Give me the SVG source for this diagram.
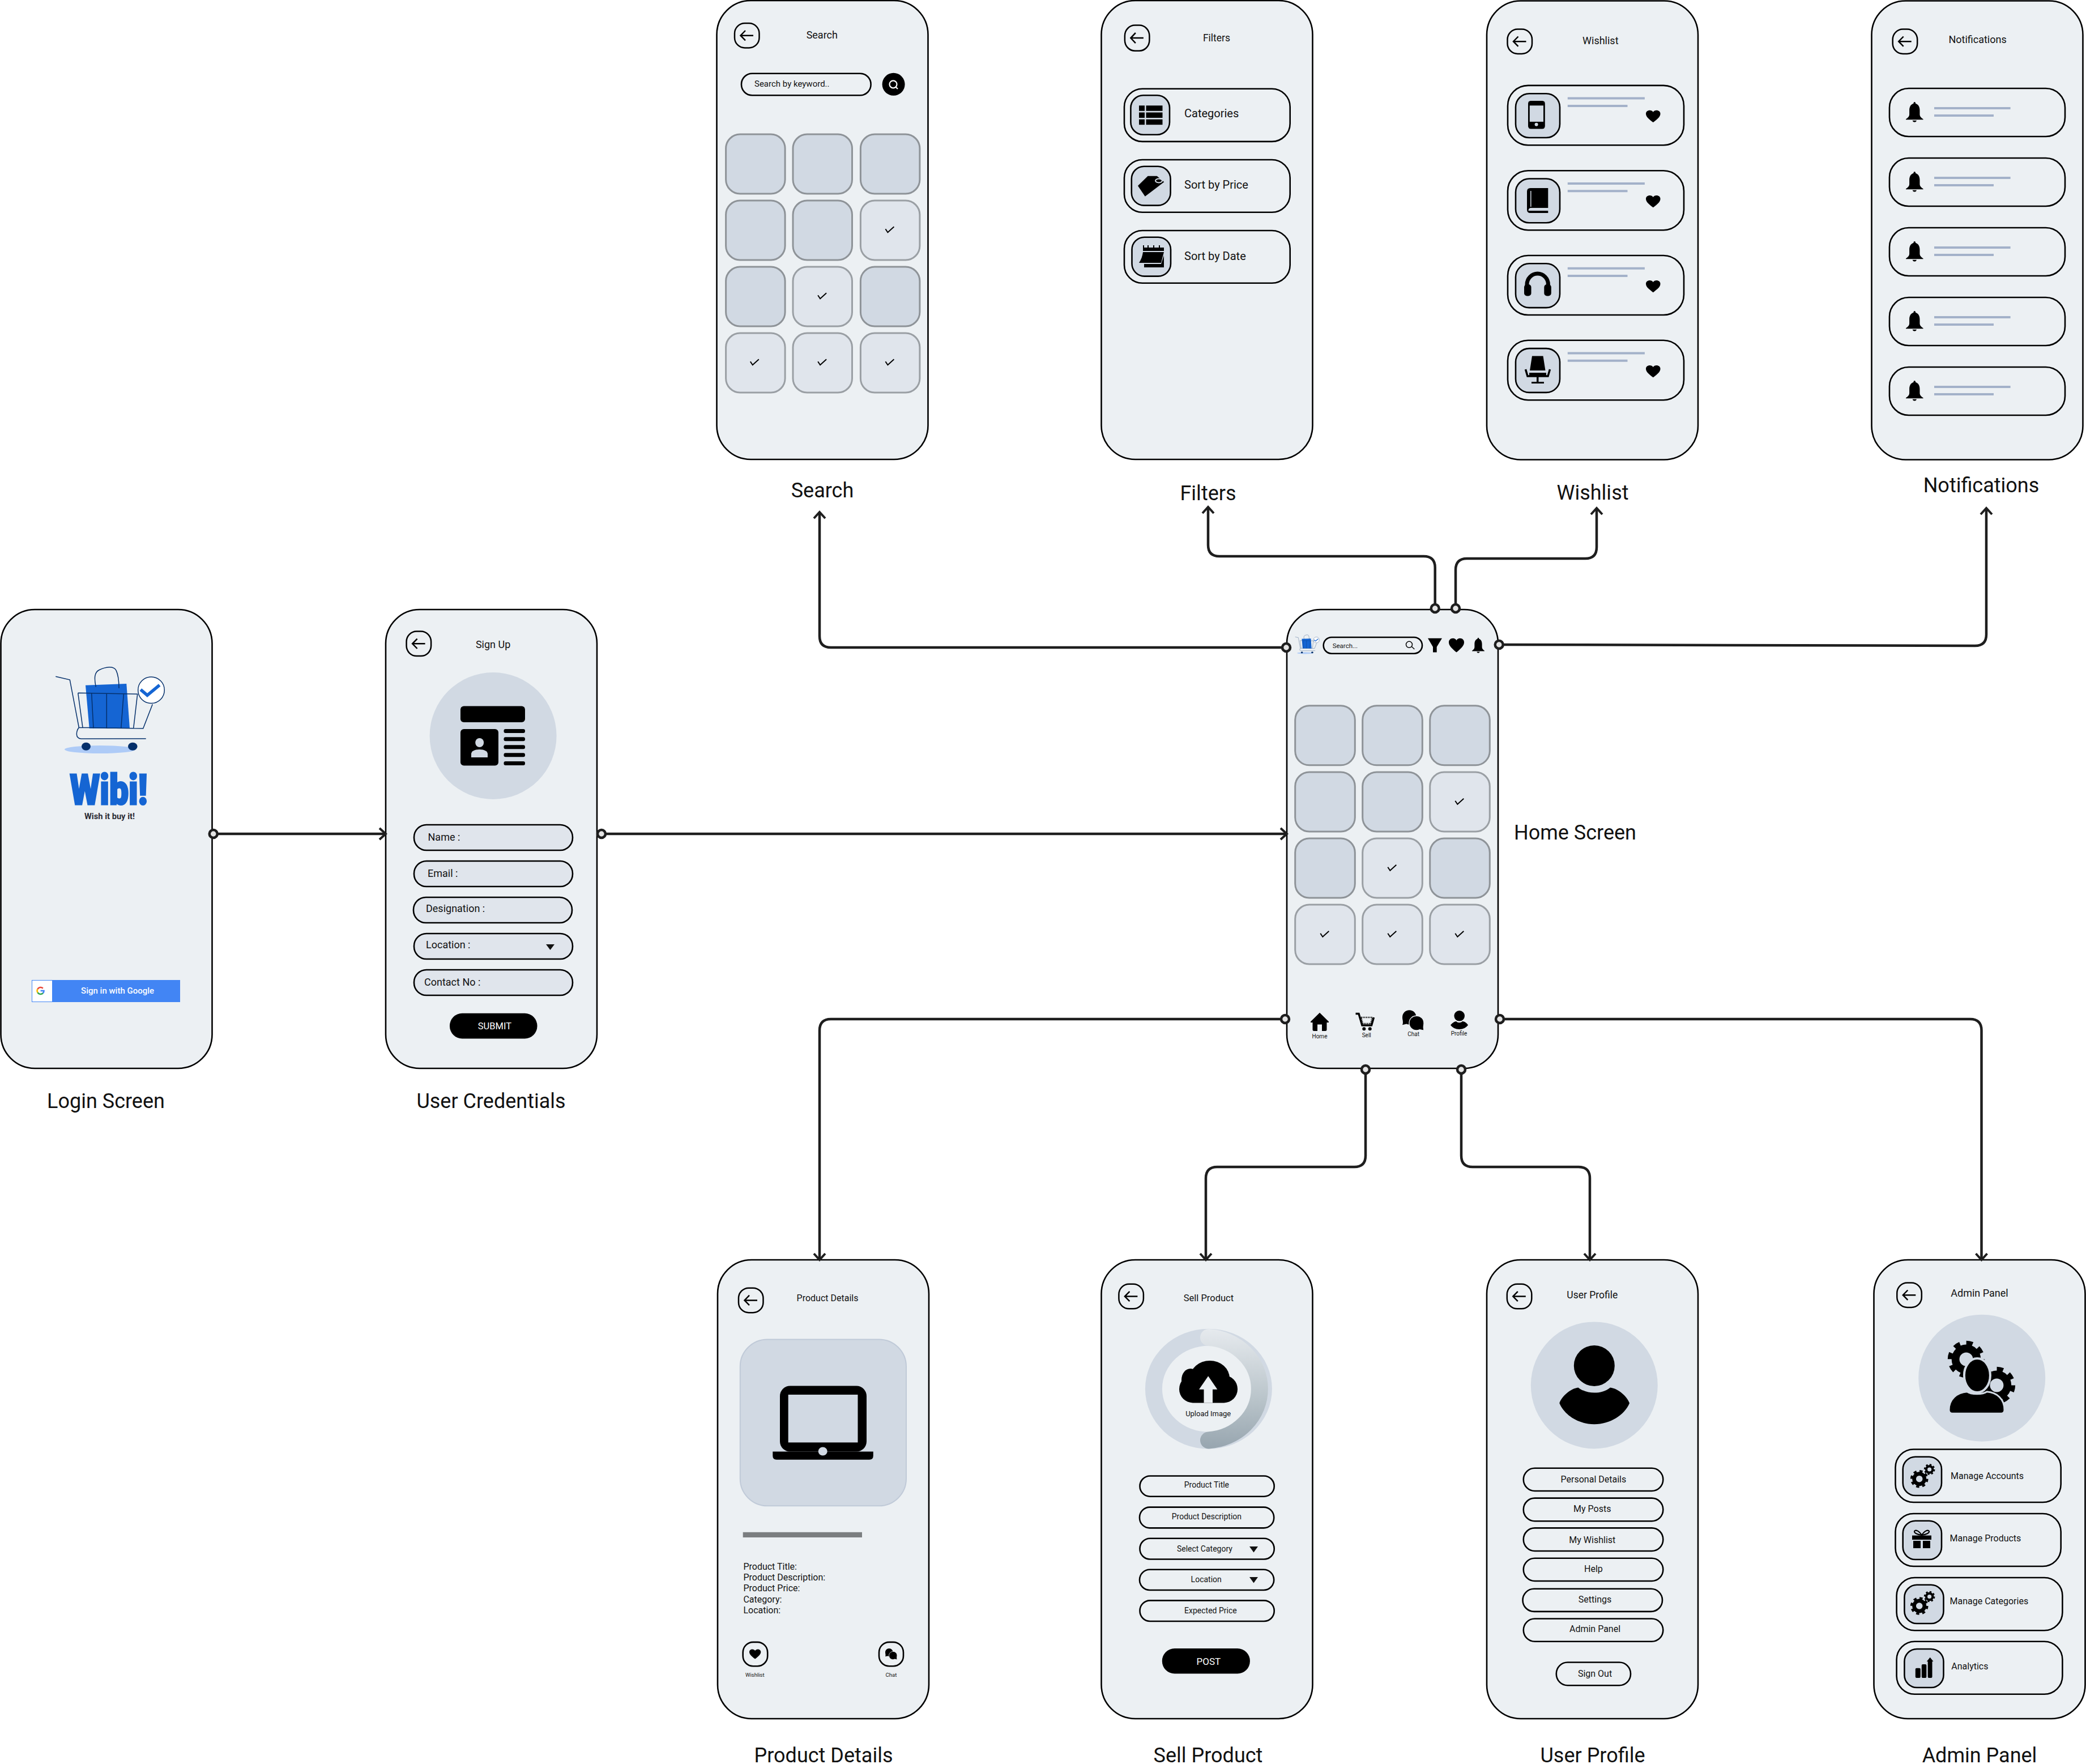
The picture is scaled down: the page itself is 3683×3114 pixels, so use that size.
<svg xmlns="http://www.w3.org/2000/svg" width="3683" height="3114" viewBox="0 0 3683 3114">
<style>
text{font-family:Roboto,"Liberation Sans",sans-serif;fill:#111}
.phone{fill:#ecf0f3;stroke:#000;stroke-width:2.6}
.lbl{font-size:36px;text-anchor:middle}
.c{text-anchor:middle}
.ttl{font-size:18px;text-anchor:middle}
.cd{fill:#d1d9e3;stroke:#8e9398;stroke-width:3}
.cl{fill:#e0e5ec;stroke:#9a9fa4;stroke-width:3}
.fld{fill:#e0e5ec;stroke:#000;stroke-width:2.6}
.out{fill:none;stroke:#000;stroke-width:2.6}
.box{fill:#d1d9e3;stroke:#000;stroke-width:2.6}
.ln{stroke:#a3b1c9;stroke-width:4;fill:none}
.cn{fill:none;stroke:#1e1e1e;stroke-width:4.5;marker-end:url(#ah)}
.dot{fill:#e4e4e4;stroke:#1e1e1e;stroke-width:4.5}
.blk{fill:#000}
.bg{fill:#d1d9e3}
.tri{fill:#111}
.cartline{fill:none;stroke:#05306b;stroke-width:1.5}
</style>
<defs>
<marker id="ah" markerUnits="userSpaceOnUse" markerWidth="18" markerHeight="26" viewBox="0 0 18 26" refX="15" refY="13" orient="auto"><path d="M4,3 L15,13 L4,23" fill="none" stroke="#1e1e1e" stroke-width="4"/></marker>
<linearGradient id="arc" gradientUnits="userSpaceOnUse" x1="2134" y1="2346" x2="2134" y2="2558"><stop offset="0" stop-color="#e6eaee"/><stop offset=".6" stop-color="#b8c3c9"/><stop offset="1" stop-color="#97a5af"/></linearGradient>
<g id="back"><rect x="0" y="0" width="43.500" height="43.500" rx="18" fill="none" stroke="#000" stroke-width="2.500"/><path d="M33,21.700 H11 M19,13 L10.500,21.700 L19,30.400" fill="none" stroke="#000" stroke-width="2.500"/></g>
<path id="heart" d="M50 90 C20 65 0 48 0 25 C0 10 12 0 27 0 C37 0 45 5 50 13 C55 5 63 0 73 0 C88 0 100 10 100 25 C100 48 80 65 50 90Z"/>
<path id="bell" d="M50 0 C54 0 56 3 56 8 C72 12 80 25 80 42 L80 62 C80 72 90 80 100 85 L100 88 L0 88 L0 85 C10 80 20 72 20 62 L20 42 C20 25 28 12 44 8 C44 3 46 0 50 0Z M38 92 H62 C60 98 55 100 50 100 C45 100 40 98 38 92Z"/>
<polyline id="chk" points="-8.200,-1.800 -4.200,4.200 6.800,-5.700" fill="none" stroke="#000" stroke-width="2"/>
<g id="chat"><path d="M37 0 C58 0 74 16 74 38 C74 60 58 76 37 76 C30 76 26 75 22 73 L0 78 C4 70 3 64 2 54 C1 48 0 44 0 38 C0 16 16 0 37 0Z" fill="#000"/><path d="M75 30 C97 30 114 46 114 68 C114 76 112 84 112 92 L114 108 L92 103 C86 106 81 107 75 107 C53 107 36 90 36 68 C36 46 53 30 75 30Z" fill="#000" stroke="#ecf0f3" stroke-width="4"/></g>
<g id="gear"><circle r="9.400" fill="none" stroke="#000" stroke-width="3" stroke-dasharray="3.690 3.690"/><circle r="6.300" fill="none" stroke="#000" stroke-width="4.600"/></g>
<g id="cart">
<ellipse cx="176.700" cy="1323" rx="62.700" ry="7" fill="#aecbf7"/>
<polygon points="151,1209.700 223.300,1207 229,1285.700 157.700,1285.700" fill="#1565d3"/>
<path class="cartline" d="M98.300,1194.300 L123.300,1200 L139.300,1284 M169.300,1212.700 C166,1196.700 166.700,1186.700 175,1182.700 C186.700,1177.300 200,1175 205,1183.300 C208.300,1190 210,1203.300 210,1215 M137.700,1223.300 L243.300,1225.300 M137.700,1223.300 L146,1284.300 M161.700,1224 L165,1285.700 M188.300,1224.300 V1286 M218.300,1225 L213.700,1286 M242.700,1225.300 L235.700,1285.700 M139.300,1284.300 L252.700,1286 L269.300,1243.300 M139.300,1284.300 C135,1290 131.700,1303.300 143.300,1304.300 L257.700,1304"/>
<ellipse cx="152" cy="1317.700" rx="8" ry="7" fill="#05306b"/>
<ellipse cx="234.300" cy="1317.700" rx="8.300" ry="7" fill="#05306b"/>
<circle cx="267" cy="1218.300" r="23.300" fill="#fff" stroke="#05306b" stroke-width="1.500"/>
<polyline points="248.300,1217.300 260,1227.300 281.700,1209.300" fill="none" stroke="#1565d3" stroke-width="5.500"/>
</g>
</defs>
<rect width="3683" height="3114" fill="#fff"/>

<g id="node-login">
<rect class="phone" x="1.500" y="1076" width="373" height="810" rx="60"/>
<use href="#cart"/>
<text x="192" y="1420" font-size="74" font-weight="900" textLength="137" lengthAdjust="spacingAndGlyphs" class="c" style="fill:#1565d3;stroke:#1565d3;stroke-width:3">Wibi!</text>
<text x="193.500" y="1446" font-size="15" font-weight="700" textLength="89" lengthAdjust="spacingAndGlyphs" class="c" style="fill:#2b2b33">Wish it buy it!</text>
<rect x="56" y="1730" width="262" height="39" fill="#4285f4"/>
<rect x="56.500" y="1730.500" width="36" height="38" fill="#fff" stroke="#4285f4"/>
<g fill="none" stroke-width="2.600"><path d="M71.600,1749 H77.500 A6,6 0 0 1 75.800,1753.300" stroke="#4285f4"/><path d="M75.800,1753.300 A6,6 0 0 1 66.400,1752" stroke="#34a853"/><path d="M66.400,1752 A6,6 0 0 1 66.400,1746" stroke="#fbbc05"/><path d="M66.400,1746 A6,6 0 0 1 75.800,1744.700" stroke="#ea4335"/></g>
<text x="207.600" y="1754" font-size="15" font-weight="500" class="c" style="fill:#fff">Sign in with Google</text>
<text x="187" y="1956" class="lbl">Login Screen</text>
</g>

<g id="node-signup">
<rect class="phone" x="681" y="1076" width="373" height="810" rx="60"/>
<use href="#back" x="717.600" y="1114.600"/>
<text x="870.600" y="1144" class="ttl">Sign Up</text>
<circle cx="870.600" cy="1299" r="112" class="bg"/>
<rect x="813" y="1246.600" width="114" height="28.400" rx="6" class="blk"/>
<rect x="813" y="1287" width="67" height="64.600" rx="6" class="blk"/>
<g class="blk"><rect x="889.500" y="1287" width="37.500" height="7" rx="3"/><rect x="889.500" y="1301.200" width="37.500" height="7" rx="3"/><rect x="889.500" y="1315.300" width="37.500" height="7" rx="3"/><rect x="889.500" y="1329.300" width="37.500" height="7" rx="3"/><rect x="889.500" y="1344" width="37.500" height="7" rx="3"/></g>
<ellipse cx="846.700" cy="1311" rx="7.500" ry="8" class="bg"/>
<path d="M832,1337 V1331 C832,1326 838,1323 846.500,1323 C855,1323 861,1326 861,1331 V1337Z" class="bg"/>
<rect class="fld" x="731" y="1456" width="280" height="45" rx="22"/>
<rect class="fld" x="731" y="1520" width="280" height="45" rx="22"/>
<rect class="fld" x="730" y="1584" width="280" height="45" rx="22"/>
<rect class="fld" x="731" y="1648" width="280" height="45" rx="22"/>
<rect class="fld" x="731" y="1712" width="280" height="45" rx="22"/>
<g font-size="18"><text x="755.500" y="1484">Name :</text><text x="755" y="1548">Email :</text><text x="752" y="1610">Designation :</text><text x="752" y="1674">Location :</text><text x="749" y="1740">Contact No :</text></g>
<polygon class="tri" points="964,1667 979,1667 971.500,1677"/>
<rect x="794" y="1788.800" width="154.500" height="44.600" rx="22" class="blk"/>
<text x="873.400" y="1817" font-size="16.500" class="c" style="fill:#fff">SUBMIT</text>
<text x="867" y="1956" class="lbl">User Credentials</text>
</g>

<g id="node-home">
<rect class="phone" x="2272" y="1076" width="373" height="810" rx="60"/>
<use href="#cart" transform="translate(2264.900,859.200) scale(.222)"/>
<rect x="2336.700" y="1125" width="174.300" height="28.700" rx="14.300" class="out"/>
<text x="2352.700" y="1143.800" font-size="11.500">Search...</text>
<circle cx="2488" cy="1137.800" r="5.500" fill="none" stroke="#000" stroke-width="1.500"/><path d="M2492.500,1141.500 L2497.300,1146" stroke="#000" stroke-width="1.500"/>
<polygon class="blk" points="2521,1126.800 2546,1126.800 2536.700,1142 2536.700,1151.500 2530,1151.500 2530,1142"/>
<use href="#heart" transform="translate(2558,1126.800) scale(.27,.275)"/>
<use href="#bell" transform="translate(2599,1125.700) scale(.22,.27)"/>
<rect class="cd" x="2286.700" y="1245.800" width="105.600" height="105" rx="25"/><rect class="cd" x="2405.700" y="1245.800" width="105.600" height="105" rx="25"/><rect class="cd" x="2524.700" y="1245.800" width="105.600" height="105" rx="25"/>
<rect class="cd" x="2286.700" y="1363" width="105.600" height="105" rx="25"/><rect class="cd" x="2405.700" y="1363" width="105.600" height="105" rx="25"/><rect class="cl" x="2524.700" y="1363" width="105.600" height="105" rx="25"/>
<rect class="cd" x="2286.700" y="1480" width="105.600" height="105" rx="25"/><rect class="cl" x="2405.700" y="1480" width="105.600" height="105" rx="25"/><rect class="cd" x="2524.700" y="1480" width="105.600" height="105" rx="25"/>
<rect class="cl" x="2286.700" y="1597" width="105.600" height="105" rx="25"/><rect class="cl" x="2405.700" y="1597" width="105.600" height="105" rx="25"/><rect class="cl" x="2524.700" y="1597" width="105.600" height="105" rx="25"/>
<use href="#chk" x="2577.500" y="1415.500"/><use href="#chk" x="2458.500" y="1532.500"/><use href="#chk" x="2339.500" y="1649.500"/><use href="#chk" x="2458.500" y="1649.500"/><use href="#chk" x="2577.500" y="1649.500"/>
<path class="blk" d="M2314,1803.500 L2330,1787.700 L2346,1803.500 V1805 H2342.500 V1818 Q2342.500,1820 2340,1820 H2334 V1808.500 H2326 V1820 H2320 Q2317.500,1820 2317.500,1818 V1805 H2314Z"/>
<text x="2330" y="1832.700" font-size="10" class="c">Home</text>
<path d="M2393.500,1789.500 H2399 L2405,1810 H2421.500 L2425.500,1796" fill="none" stroke="#000" stroke-width="3.500"/>
<path d="M2403,1796 H2423 L2420,1807 H2406Z" fill="none" stroke="#000" stroke-width="2.500" stroke-dasharray="1.500 1.500"/>
<circle cx="2408.300" cy="1816.300" r="3" class="blk"/><circle cx="2418.700" cy="1816.300" r="3" class="blk"/>
<text x="2412.700" y="1831" font-size="10" class="c">Sell</text>
<use href="#chat" transform="translate(2476,1783.300) scale(.333)"/>
<text x="2495.700" y="1829" font-size="10" class="c">Chat</text>
<circle cx="2576.700" cy="1793.300" r="9.300" class="blk"/>
<path class="blk" d="M2561,1809.500 C2565,1805 2569,1803 2571,1803 C2574,1806 2579,1806 2582,1803 C2585,1803 2589,1805 2592,1809.500 C2589,1814 2583,1817 2576.500,1817 C2570,1817 2564,1814 2561,1809.500Z"/>
<text x="2576" y="1828" font-size="10" class="c">Profile</text>
<text x="2781" y="1482" class="lbl">Home Screen</text>
</g>

<g id="node-search">
<rect class="phone" x="1265.500" y="1" width="373" height="810" rx="60"/>
<use href="#back" x="1297" y="41"/>
<text x="1451.300" y="67.800" class="ttl">Search</text>
<rect x="1309" y="129.700" width="228.600" height="38.600" rx="19" class="out"/>
<text x="1332" y="152.500" font-size="15">Search by keyword..</text>
<circle cx="1577.600" cy="148.800" r="20" class="blk"/>
<circle cx="1577" cy="148.800" r="6.500" fill="none" stroke="#fff" stroke-width="2.200"/><path d="M1581.500,153.500 L1585,157" stroke="#fff" stroke-width="2.200"/>
<rect class="cd" x="1281.600" y="237" width="104.500" height="105" rx="25"/><rect class="cd" x="1400" y="237" width="104.500" height="105" rx="25"/><rect class="cd" x="1519.400" y="237" width="104.500" height="105" rx="25"/>
<rect class="cd" x="1281.600" y="354" width="104.500" height="105" rx="25"/><rect class="cd" x="1400" y="354" width="104.500" height="105" rx="25"/><rect class="cl" x="1519.400" y="354" width="104.500" height="105" rx="25"/>
<rect class="cd" x="1281.600" y="471" width="104.500" height="105" rx="25"/><rect class="cl" x="1400" y="471" width="104.500" height="105" rx="25"/><rect class="cd" x="1519.400" y="471" width="104.500" height="105" rx="25"/>
<rect class="cl" x="1281.600" y="588" width="104.500" height="105" rx="25"/><rect class="cl" x="1400" y="588" width="104.500" height="105" rx="25"/><rect class="cl" x="1519.400" y="588" width="104.500" height="105" rx="25"/>
<use href="#chk" x="1571.600" y="406"/><use href="#chk" x="1452.300" y="523"/><use href="#chk" x="1333" y="640"/><use href="#chk" x="1452.300" y="640"/><use href="#chk" x="1571.600" y="640"/>
<text x="1452" y="878" class="lbl">Search</text>
</g>

<g id="node-filters">
<rect class="phone" x="1944.500" y="1" width="373" height="810" rx="60"/>
<use href="#back" transform="translate(1985.900,44.500) scale(1,1.040)"/>
<text x="2148" y="73" font-size="17.500" class="c">Filters</text>
<rect class="out" x="1985" y="156.700" width="292.700" height="93.200" rx="32"/>
<rect class="out" x="1985" y="282" width="292.700" height="92.800" rx="32"/>
<rect class="out" x="1985" y="407" width="292.700" height="92.700" rx="32"/>
<rect class="box" x="1996.400" y="168.300" width="68.600" height="69.400" rx="22"/>
<rect class="box" x="1997.800" y="293.800" width="68.800" height="68.800" rx="22"/>
<rect class="box" x="1998.500" y="418.700" width="68.500" height="68.900" rx="22"/>
<g class="blk"><rect x="2011" y="186.300" width="10" height="9.500"/><rect x="2023.500" y="186.300" width="29" height="9.500"/><rect x="2011" y="198.500" width="10" height="9.500"/><rect x="2023.500" y="198.500" width="29" height="9.500"/><rect x="2011" y="210.700" width="10" height="9.500"/><rect x="2023.500" y="210.700" width="29" height="9.500"/></g>
<path class="blk" d="M2009,328 L2026.600,310.700 H2042.700 L2055.300,321.300 L2021.700,346.700Z"/>
<ellipse cx="2046" cy="319" rx="6" ry="3.500" fill="none" stroke="#d1d9e3" stroke-width="2"/>
<path class="blk" d="M2018,437 V433 H2020 V437 H2026 V433 H2028 V437 H2036 V433 H2038 V437 H2046 V433 H2048 V437 H2055 V443 H2018Z M2018,445 H2055 L2050,464 H2011 C2015,458 2017,452 2018,445Z M2020,466 H2050 L2055,451 V472 H2020Z"/>
<g font-size="20"><text x="2091" y="207">Categories</text><text x="2091" y="332.500">Sort by Price</text><text x="2091" y="458.500">Sort by Date</text></g>
<text x="2133" y="883" class="lbl">Filters</text>
</g>

<g id="node-wishlist">
<rect class="phone" x="2625" y="1.500" width="373" height="810" rx="60"/>
<use href="#back" x="2661.500" y="51.500"/>
<text x="2825.800" y="77.800" class="ttl">Wishlist</text>
<rect class="out" x="2662" y="150.900" width="311" height="105.300" rx="36"/>
<rect class="out" x="2662" y="301.200" width="311" height="105" rx="36"/>
<rect class="out" x="2662" y="451" width="311" height="105" rx="36"/>
<rect class="out" x="2662" y="600.800" width="311" height="105.400" rx="36"/>
<rect class="box" x="2676" y="165.200" width="78" height="77.800" rx="24"/>
<rect class="box" x="2676" y="315.500" width="78" height="77.800" rx="24"/>
<rect class="box" x="2676" y="465.300" width="78" height="77.800" rx="24"/>
<rect class="box" x="2676" y="615.100" width="78" height="77.800" rx="24"/>
<path class="ln" d="M2767.800,173.600 H2903.900 M2767.800,186.900 H2873.500 M2767.800,323.900 H2903.900 M2767.800,337.200 H2873.500 M2767.800,473.700 H2903.900 M2767.800,487 H2873.500 M2767.800,623.500 H2903.900 M2767.800,636.800 H2873.500"/>
<use href="#heart" transform="translate(2906,194.800) scale(.255,.235)"/>
<use href="#heart" transform="translate(2906,345) scale(.255,.235)"/>
<use href="#heart" transform="translate(2906,495) scale(.255,.235)"/>
<use href="#heart" transform="translate(2906,645) scale(.255,.235)"/>
<rect x="2698" y="177.900" width="29.800" height="49.700" rx="5" class="blk"/><rect x="2700.800" y="186.300" width="24.200" height="28.600" class="bg"/><circle cx="2712.600" cy="219.700" r="3" class="bg"/>
<path class="blk" d="M2696,338 Q2696,332 2702,332 H2733.300 V367 H2702 Q2698.500,368 2698.500,372 H2733.300 V376 H2702 Q2696,376 2696,370Z"/><path d="M2702.800,337 V365" stroke="#d1d9e3" stroke-width="1.500"/>
<path d="M2696,508 V502 A18.700,19 0 0 1 2733.400,502 V508" fill="none" stroke="#000" stroke-width="7"/><rect x="2691" y="502" width="12.500" height="20.500" rx="5" class="blk"/><rect x="2726.300" y="502" width="12.500" height="20.500" rx="5" class="blk"/>
<path class="blk" d="M2705,628.400 H2724.500 L2728.500,654 H2701Z"/><path d="M2693.500,652 L2697,664 H2733 L2736.500,652" fill="none" stroke="#000" stroke-width="3.500"/><rect x="2700" y="658" width="30" height="6" class="blk"/><rect x="2713" y="664" width="3.500" height="11" class="blk"/><rect x="2704" y="674" width="22" height="3" class="blk"/>
<text x="2812" y="882" class="lbl">Wishlist</text>
</g>

<g id="node-notifications">
<rect class="phone" x="3304.500" y="1.500" width="373" height="810" rx="60"/>
<use href="#back" x="3341.700" y="51.500"/>
<text x="3491.600" y="76.200" class="ttl">Notifications</text>
<rect class="out" x="3336" y="156" width="310" height="85" rx="34"/>
<rect class="out" x="3336" y="279" width="310" height="85" rx="34"/>
<rect class="out" x="3336" y="402" width="310" height="85" rx="34"/>
<rect class="out" x="3336" y="525" width="310" height="85" rx="34"/>
<rect class="out" x="3336" y="648" width="310" height="85" rx="34"/>
<use href="#bell" transform="translate(3365,180) scale(.306,.355)"/>
<use href="#bell" transform="translate(3365,303) scale(.306,.355)"/>
<use href="#bell" transform="translate(3365,426) scale(.306,.355)"/>
<use href="#bell" transform="translate(3365,549) scale(.306,.355)"/>
<use href="#bell" transform="translate(3365,672) scale(.306,.355)"/>
<path class="ln" d="M3415,191 H3549.600 M3415,204 H3520 M3415,314 H3549.600 M3415,327 H3520 M3415,437 H3549.600 M3415,450 H3520 M3415,560 H3549.600 M3415,573 H3520 M3415,683 H3549.600 M3415,696 H3520"/>
<text x="3498" y="869" class="lbl">Notifications</text>
</g>

<g id="node-product">
<rect class="phone" x="1267" y="2224" width="373" height="810" rx="60"/>
<use href="#back" x="1304" y="2273.700"/>
<text x="1461" y="2296.700" font-size="16" class="c">Product Details</text>
<rect x="1306.800" y="2364.400" width="293.200" height="293.900" rx="48" fill="#d1d9e3" stroke="#c0cad8" stroke-width="2"/>
<rect x="1377" y="2446.500" width="153" height="116" rx="18" class="blk"/>
<rect x="1391.700" y="2462" width="122.800" height="84.400" class="bg"/>
<path class="blk" d="M1364.300,2562.500 H1541.800 V2570 Q1541.800,2576.800 1535,2576.800 H1371 Q1364.300,2576.800 1364.300,2570Z"/>
<ellipse cx="1452.700" cy="2562" rx="8" ry="7.500" class="bg"/>
<rect x="1311.700" y="2704.800" width="210.300" height="9.200" fill="#7b7e80"/>
<g font-size="16"><text x="1312.400" y="2771.400">Product Title:</text><text x="1312.400" y="2790.400">Product Description:</text><text x="1312.400" y="2809.300">Product Price:</text><text x="1312.400" y="2828.800">Category:</text><text x="1312.400" y="2847.800">Location:</text></g>
<rect class="out" x="1311.700" y="2898.900" width="43.500" height="42.400" rx="18"/>
<use href="#heart" transform="translate(1323,2911.500) scale(.203,.19)"/>
<rect class="out" x="1552" y="2898.900" width="43" height="42.400" rx="18"/>
<use href="#chat" transform="translate(1563,2910) scale(.183)"/>
<text x="1332.800" y="2959.700" font-size="9.500" class="c">Wishlist</text>
<text x="1573.400" y="2959.700" font-size="9.500" class="c">Chat</text>
<text x="1454" y="3111" class="lbl">Product Details</text>
</g>

<g id="node-sell">
<rect class="phone" x="1944.500" y="2224" width="373" height="810" rx="60"/>
<use href="#back" x="1975.400" y="2266.800"/>
<text x="2133.900" y="2296.700" font-size="16.500" class="c">Sell Product</text>
<ellipse cx="2133.900" cy="2451.700" rx="112" ry="106" class="bg"/>
<ellipse cx="2133.900" cy="2451.700" rx="82" ry="76" fill="#ecf0f3"/>
<path d="M2134,2361 A97,91 0 0 1 2134,2542.500" fill="none" stroke="url(#arc)" stroke-width="30" stroke-linecap="round"/>
<g class="blk"><ellipse cx="2136" cy="2433" rx="35" ry="31"/><ellipse cx="2102" cy="2436" rx="16" ry="20"/><rect x="2082" y="2428" width="103" height="48.400" rx="24"/></g>
<polygon points="2133.200,2429.300 2149.300,2452.800 2141,2452.800 2141,2476.400 2125.500,2476.400 2125.500,2452.800 2117,2452.800" fill="#ecf0f3"/>
<text x="2133.200" y="2499.900" font-size="13" class="c">Upload Image</text>
<rect class="out" x="2012.500" y="2605.500" width="237.200" height="36.200" rx="18"/>
<rect class="out" x="2012" y="2660.600" width="237.200" height="36.800" rx="18"/>
<rect class="out" x="2012.500" y="2715.700" width="237.200" height="36.800" rx="18"/>
<rect class="out" x="2012" y="2770.800" width="237.200" height="36.200" rx="18"/>
<rect class="out" x="2012.500" y="2825.400" width="237.200" height="36.600" rx="18"/>
<g font-size="14" class="c"><text x="2130.400" y="2626">Product Title</text><text x="2130.400" y="2681.900">Product Description</text><text x="2126.900" y="2738.700">Select Category</text><text x="2129.700" y="2792.700">Location</text><text x="2137.400" y="2847.800">Expected Price</text></g>
<polygon class="tri" points="2206,2730 2221,2730 2213.500,2740.400"/>
<polygon class="tri" points="2206,2784 2221,2784 2213.500,2794.400"/>
<rect x="2051.800" y="2910" width="155.100" height="44.500" rx="22" class="blk"/>
<text x="2133.900" y="2938.500" font-size="17" class="c" style="fill:#fff">POST</text>
<text x="2133" y="3111" class="lbl">Sell Product</text>
</g>

<g id="node-profile">
<rect class="phone" x="2625" y="2224" width="373" height="810" rx="60"/>
<use href="#back" x="2660.800" y="2266.800"/>
<text x="2811.300" y="2292" font-size="17.500" class="c">User Profile</text>
<circle cx="2814.800" cy="2445.400" r="112" class="bg"/>
<circle cx="2814.800" cy="2410.900" r="36" class="blk"/>
<path class="blk" d="M2753.300,2477 C2757,2465 2773,2451 2786.500,2449.400 C2795,2456 2805,2458.600 2814.800,2458.600 C2825,2458.600 2835,2456 2843,2449.400 C2857,2451 2873,2465 2877,2477 C2868,2498 2843,2514.200 2814.800,2514.200 C2787,2514.200 2762,2498 2753.300,2477Z"/>
<rect class="out" x="2689.800" y="2591.800" width="246.500" height="40.200" rx="20"/>
<rect class="out" x="2689.800" y="2644.600" width="246.500" height="40.700" rx="20"/>
<rect class="out" x="2689.800" y="2697.400" width="246.500" height="40.600" rx="20"/>
<rect class="out" x="2689.800" y="2750.800" width="246.500" height="40.200" rx="20"/>
<rect class="out" x="2688.500" y="2804.700" width="246.500" height="40.200" rx="20"/>
<rect class="out" x="2689.800" y="2857.500" width="246.500" height="40.200" rx="20"/>
<g font-size="16" class="c"><text x="2813.400" y="2617">Personal Details</text><text x="2811.300" y="2669.200">My Posts</text><text x="2811.300" y="2723.800">My Wishlist</text><text x="2813.400" y="2774.900">Help</text><text x="2816" y="2828.800">Settings</text><text x="2816" y="2880.500">Admin Panel</text><text x="2816" y="2959.700">Sign Out</text></g>
<rect class="out" x="2747.800" y="2934.500" width="131.200" height="40.700" rx="20"/>
<text x="2812" y="3111" class="lbl">User Profile</text>
</g>

<g id="node-admin">
<rect class="phone" x="3308.500" y="2224" width="373" height="810" rx="60"/>
<use href="#back" x="3349.300" y="2264.500"/>
<text x="3495" y="2289.200" class="ttl">Admin Panel</text>
<circle cx="3499.200" cy="2432.700" r="112" class="bg"/>
<use href="#gear" transform="translate(3471.500,2399.400) scale(3)"/>
<use href="#gear" transform="translate(3525.400,2445.400) scale(3)"/>
<path class="blk" d="M3441,2489 C3441,2470 3455,2458 3473,2456.800 C3480,2462 3501,2462 3508,2456.800 C3526,2458 3539,2470 3539,2489 Q3539,2495.300 3533,2495.300 H3447 Q3441,2495.300 3441,2489Z" stroke="#d1d9e3" stroke-width="3"/>
<ellipse cx="3490.900" cy="2428" rx="23" ry="30" class="blk" stroke="#d1d9e3" stroke-width="4"/>
<rect class="out" x="3346.500" y="2558.500" width="292.200" height="93.500" rx="32"/>
<rect class="out" x="3346.500" y="2672" width="292.200" height="93" rx="32"/>
<rect class="out" x="3348.600" y="2785" width="292.800" height="93.200" rx="32"/>
<rect class="out" x="3348.600" y="2897.700" width="292.800" height="93" rx="32"/>
<rect class="box" x="3359.700" y="2571.700" width="68.300" height="68.300" rx="22"/>
<rect class="box" x="3359.700" y="2684.700" width="68.300" height="68.300" rx="22"/>
<rect class="box" x="3362.400" y="2797.800" width="69.100" height="68.200" rx="22"/>
<rect class="box" x="3362.400" y="2911" width="69.100" height="68" rx="22"/>
<use href="#gear" transform="translate(3388.700,2610.700) scale(1.450)"/><use href="#gear" transform="translate(3406.600,2594) scale(.9)"/>
<use href="#gear" transform="translate(3388.700,2835) scale(1.450)"/><use href="#gear" transform="translate(3406.600,2818.500) scale(.9)"/>
<g class="blk"><rect x="3376" y="2710.600" width="34" height="7.400"/><rect x="3378" y="2720" width="13" height="13"/><rect x="3395" y="2720" width="13" height="13"/></g>
<path d="M3393,2710 C3388,2702 3382,2700 3380,2703 C3379,2706 3385,2709 3393,2710 C3401,2709 3407,2706 3406,2703 C3404,2700 3398,2702 3393,2710Z" fill="none" stroke="#000" stroke-width="2"/>
<g class="blk"><rect x="3381.800" y="2944.800" width="9" height="17.200" rx="2"/><rect x="3392.800" y="2937.900" width="8.500" height="24.100" rx="2"/><path d="M3407.700,2925.800 L3413.500,2933 H3411.500 V2960 Q3411.500,2962 3409.500,2962 H3405.500 Q3403.700,2962 3403.700,2960 V2933 H3401.800Z"/></g>
<g font-size="16"><text x="3444" y="2611.300">Manage Accounts</text><text x="3442.500" y="2720.900">Manage Products</text><text x="3442.500" y="2832.300">Manage Categories</text><text x="3445.300" y="2947">Analytics</text></g>
<text x="3495" y="3111" class="lbl">Admin Panel</text>
</g>

<g id="connectors">
<path class="cn" d="M376.700,1472 H681"/>
<path class="cn" d="M1062,1472 H2272"/>
<path class="cn" d="M2271,1143 H1467 Q1447,1143 1447,1123 V904"/>
<path class="cn" d="M2533.700,1074 V1002 Q2533.700,982 2513.700,982 H2153 Q2133,982 2133,962 V895"/>
<path class="cn" d="M2570,1074 V1006 Q2570,986 2590,986 H2799 Q2819,986 2819,966 V897"/>
<path class="cn" d="M2646.700,1138 L3487,1140 Q3507,1140 3507,1120 V897"/>
<path class="cn" d="M2269,1799 H1467 Q1447,1799 1447,1819 V2224"/>
<path class="cn" d="M2411,1888 V2040 Q2411,2060 2391,2060 H2149 Q2129,2060 2129,2080 V2224"/>
<path class="cn" d="M2580,1888 V2040 Q2580,2060 2600,2060 H2787 Q2807,2060 2807,2080 V2224"/>
<path class="cn" d="M2648,1799 H3478.500 Q3498.500,1799 3498.500,1819 V2224"/>
<circle class="dot" cx="376.700" cy="1472" r="7"/>
<circle class="dot" cx="1062" cy="1472" r="7"/>
<circle class="dot" cx="2271" cy="1143" r="7"/>
<circle class="dot" cx="2533.700" cy="1074" r="7"/>
<circle class="dot" cx="2570" cy="1074" r="7"/>
<circle class="dot" cx="2646.700" cy="1138" r="7"/>
<circle class="dot" cx="2269" cy="1799" r="7"/>
<circle class="dot" cx="2411" cy="1888" r="7"/>
<circle class="dot" cx="2580" cy="1888" r="7"/>
<circle class="dot" cx="2648" cy="1799" r="7"/>
</g>
</svg>
